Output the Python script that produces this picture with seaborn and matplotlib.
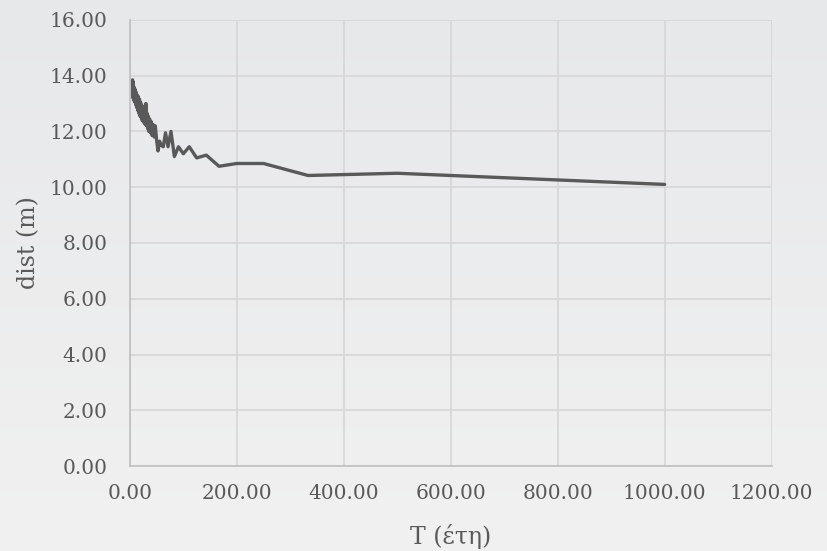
import numpy as np
import seaborn as sns
import matplotlib.pyplot as plt
from matplotlib.ticker import FormatStrFormatter

# return period (years) and distance (m)
T = [5, 5.3, 5.6, 6, 6.5, 7, 7.5, 8, 8.5, 9, 10, 11, 12, 13, 14, 15, 16, 17, 18, 19,
     20, 21, 22, 23, 24, 25, 26, 27, 28, 29, 30, 31.3, 32.3, 33.3, 34.5, 35.7, 37, 38.5,
     40, 41.7, 43.5, 45.5, 47.6, 50, 52.6, 55.6, 58.8, 62.5, 66.7, 71.4, 76.9, 83.3,
     90.9, 100, 111.1, 125, 142.9, 166.7, 200, 250, 333.3, 500, 1000]
dist = [13.85, 13.3, 13.8, 13.2, 13.65, 13.15, 13.6, 13.1, 13.55, 13.05, 13.5, 12.95,
        13.4, 12.85, 13.3, 12.75, 13.25, 12.65, 13.15, 12.55, 13.05, 12.5, 12.95, 12.4,
        12.9, 12.35, 12.85, 12.3, 12.75, 12.25, 13.0, 12.2, 12.65, 12.1, 12.55, 12.0, 12.45,
        11.95, 12.35, 11.85, 12.25, 11.8, 12.2, 11.7, 11.3, 11.65, 11.5, 11.45, 11.95,
        11.45, 12.0, 11.1, 11.45, 11.2, 11.45, 11.05, 11.15, 10.75, 10.85, 10.85, 10.42,
        10.5, 10.1]

xticks = [0, 200, 400, 600, 800, 1000, 1200]
yticks = [0, 2, 4, 6, 8, 10, 12, 14, 16]

sns.set_style("whitegrid")
plt.rcParams['font.family'] = ['DejaVu Serif']
txt = '#595959'

fig = plt.figure(figsize=(8.27, 5.51), dpi=100)

# soft gradient background
bg = fig.add_axes([0, 0, 1, 1], zorder=-1)
grad = np.linspace(0, 1, 256).reshape(-1, 1)
top = np.array([0.906, 0.910, 0.918])
bot = np.array([0.945, 0.945, 0.945])
img = top + (bot - top) * grad[:, :, None]
bg.imshow(img, aspect='auto', extent=[0, 1, 0, 1])
bg.axis('off')

ax = fig.add_axes([0.157, 0.154, 0.776, 0.810])
ax.set_facecolor('none')
sns.lineplot(x=T, y=dist, ax=ax, color='#595959', linewidth=2.4, estimator=None, sort=False)

ax.set_xlim(0, 1200)
ax.set_ylim(0, 16)
ax.set_xticks(xticks)
ax.set_yticks(yticks)
ax.xaxis.set_major_formatter(FormatStrFormatter('%.2f'))
ax.yaxis.set_major_formatter(FormatStrFormatter('%.2f'))
ax.tick_params(axis='both', length=0, labelsize=14.5, colors=txt)
ax.tick_params(axis='y', pad=16)
ax.tick_params(axis='x', pad=13)
ax.grid(color='#d6d6d6', linewidth=1.2)
for s in ['top', 'right']:
    ax.spines[s].set_visible(False)
for s in ['left', 'bottom']:
    ax.spines[s].set_color('#bfbfbf')
    ax.spines[s].set_linewidth(1.2)

ax.set_xlabel('T (έτη)', fontsize=17, color=txt)
ax.set_ylabel('dist (m)', fontsize=17, color=txt)
ax.yaxis.set_label_coords(-0.14, 0.5)
ax.xaxis.set_label_coords(0.5, -0.13)

fig.savefig('out.png', dpi=100)
